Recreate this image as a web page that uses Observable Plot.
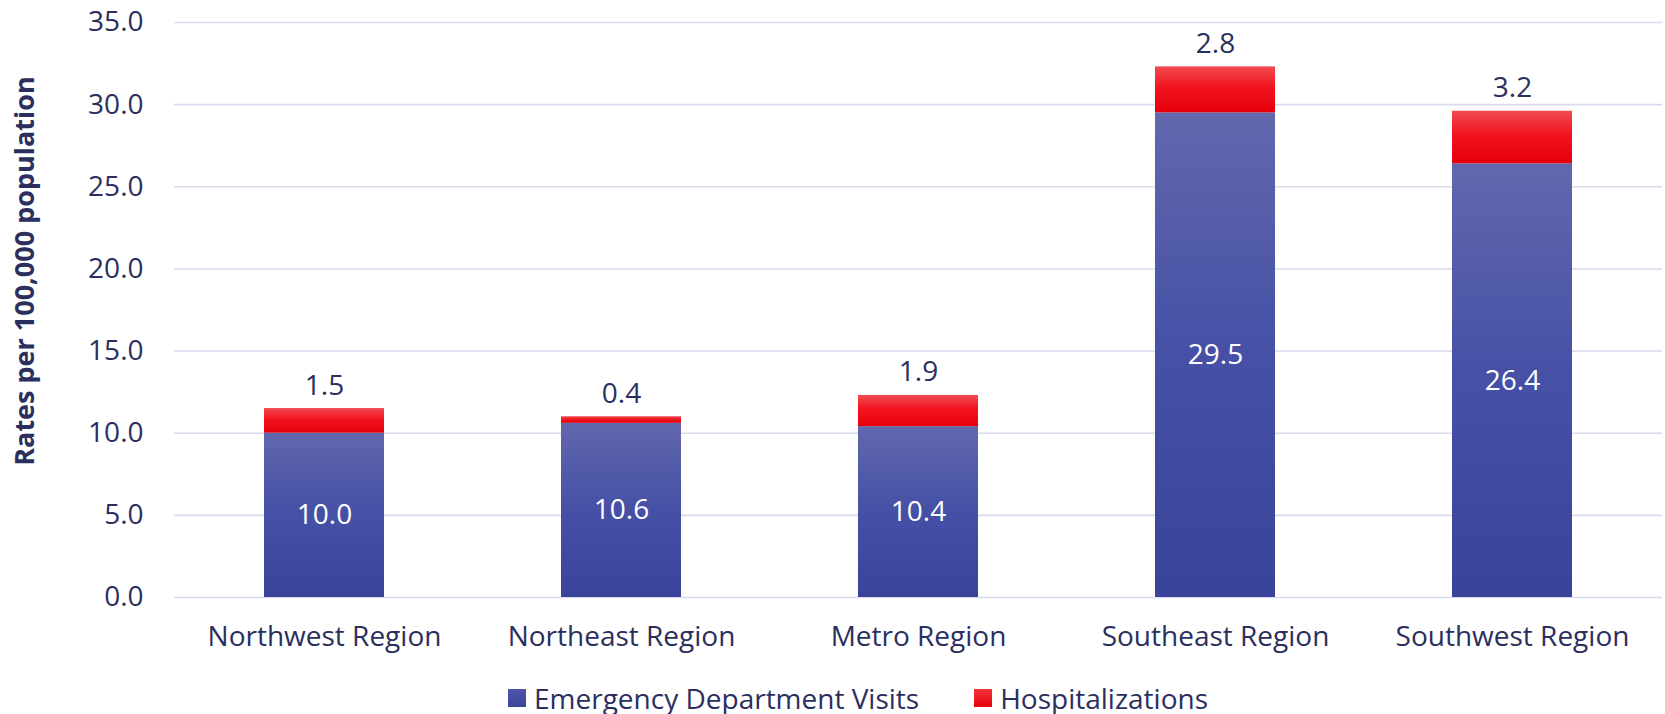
<!DOCTYPE html>
<html>
<head>
<meta charset="utf-8">
<script src="https://cdn.jsdelivr.net/npm/d3@7"></script>
<script src="https://cdn.jsdelivr.net/npm/@observablehq/plot@0.6"></script>
<style>
  body { margin: 0; background: #fff; font-family: "Open Sans", sans-serif; }
  #legend { display: flex; align-items: center; margin-left: 508px; margin-top: 11px;
            font-size: 28px; line-height: 38px; color: #2b2f5e; }
  .item { display: flex; align-items: center; }
  .sw { width: 18px; height: 18px; margin-right: 8px; }
</style>
</head>
<body>
<div id="chart"></div>
<div id="legend"></div>
<script>
const regions = ["Northwest Region", "Northeast Region", "Metro Region", "Southeast Region", "Southwest Region"];
const edVisits = [10.0, 10.6, 10.4, 29.5, 26.4];
const hospitalizations = [1.5, 0.4, 1.9, 2.8, 3.2];
const yTicks = [0, 5, 10, 15, 20, 25, 30, 35];
const seriesNames = ["Emergency Department Visits", "Hospitalizations"];
const yTitle = "Rates per 100,000 population";

const textColor = "#2b2f5e";
const rows = regions.map((r, i) => ({
  region: r, ed: edVisits[i], hosp: hospitalizations[i], total: edVisits[i] + hospitalizations[i]
}));

const chart = Plot.plot({
  width: 1665,
  height: 668,
  marginLeft: 174,
  marginRight: 3,
  marginTop: 22,
  marginBottom: 71,
  style: { fontFamily: "'Open Sans', sans-serif", fontSize: "28px", color: textColor, background: "#fff" },
  x: { domain: regions, paddingInner: 0.597, paddingOuter: 0.2985, label: null },
  y: { domain: [0, 35], label: null },
  marks: [
    Plot.gridY(yTicks, { stroke: "#d9daee", strokeWidth: 1.6, strokeOpacity: 1 }),
    Plot.barY(rows, { x: "region", y1: 0, y2: "ed", fill: "url(#gradED)" }),
    Plot.barY(rows, { x: "region", y1: "ed", y2: "total", fill: "url(#gradHosp)" }),
    Plot.text(rows, { x: "region", y: d => d.ed / 2, text: d => d.ed.toFixed(1), fill: "white", fontSize: 28 }),
    Plot.text(rows, { x: "region", y: "total", text: d => d.hosp.toFixed(1), lineAnchor: "bottom", dy: -14, fill: textColor, fontSize: 28 }),
    Plot.axisY({ ticks: yTicks, tickFormat: d3.format(".1f"), tickSize: 0, tickPadding: 31, label: null, fontSize: 28 }),
    Plot.axisX({ tickSize: 0, tickPadding: 29, label: null, fontSize: 28 }),
    Plot.text([yTitle], { text: d => d, frameAnchor: "left", textAnchor: "middle", lineAnchor: "middle", rotate: -90, dx: -149, dy: -39, fontWeight: "bold", fontSize: 27, fill: textColor })
  ]
});

const defs = d3.select(chart).insert("defs", ":first-child");
const g1 = defs.append("linearGradient").attr("id", "gradED").attr("x1", 0).attr("y1", 0).attr("x2", 0).attr("y2", 1);
g1.append("stop").attr("offset", "0%").attr("stop-color", "#6268ad");
g1.append("stop").attr("offset", "50%").attr("stop-color", "#4550a6");
g1.append("stop").attr("offset", "100%").attr("stop-color", "#394399");
const g2 = defs.append("linearGradient").attr("id", "gradHosp").attr("x1", 0).attr("y1", 0).attr("x2", 0).attr("y2", 1);
g2.append("stop").attr("offset", "0%").attr("stop-color", "#f24b52");
g2.append("stop").attr("offset", "45%").attr("stop-color", "#f1141f");
g2.append("stop").attr("offset", "100%").attr("stop-color", "#e6000a");

document.getElementById("chart").appendChild(chart);

const swatches = ["linear-gradient(#5057a8, #3a4499)", "linear-gradient(#f2343c, #e6000a)"];
const legend = document.getElementById("legend");
seriesNames.forEach((name, i) => {
  const item = document.createElement("div");
  item.className = "item";
  if (i > 0) item.style.marginLeft = "55px";
  const sw = document.createElement("div");
  sw.className = "sw";
  sw.style.background = swatches[i];
  const label = document.createElement("span");
  label.textContent = name;
  item.appendChild(sw);
  item.appendChild(label);
  legend.appendChild(item);
});
</script>
</body>
</html>
